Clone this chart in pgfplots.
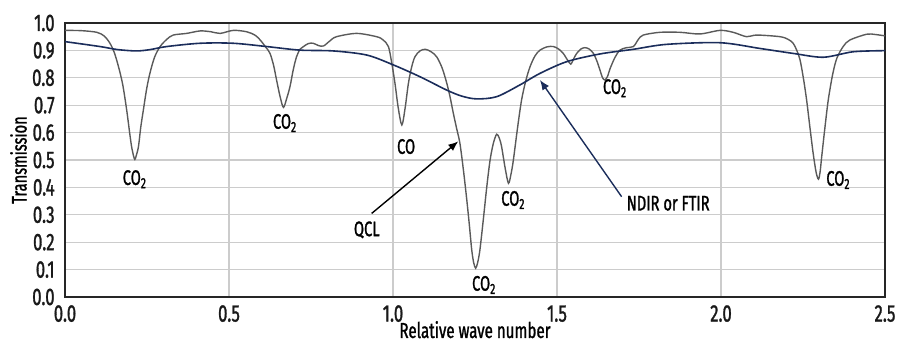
\documentclass[border=0pt]{standalone}
\usepackage{fontspec}
\setmainfont{Fira Sans}[FakeStretch=0.7, FakeBold=1.2]
\usepackage{pgfplots}
\pgfplotsset{compat=1.18}
\usetikzlibrary{arrows.meta}
\definecolor{qcl}{HTML}{5A5A5A}
\definecolor{ndir}{HTML}{1B2D5B}
\definecolor{gridc}{HTML}{CCCCCC}
\pgfplotstableread{
x y
0.000 0.973
0.050 0.972
0.097 0.966
0.120 0.952
0.137 0.926
0.150 0.893
0.163 0.841
0.176 0.775
0.188 0.683
0.197 0.600
0.203 0.549
0.209 0.515
0.213 0.502
0.217 0.515
0.224 0.549
0.231 0.620
0.239 0.683
0.249 0.760
0.259 0.817
0.273 0.875
0.290 0.914
0.310 0.940
0.330 0.956
0.371 0.962
0.412 0.971
0.445 0.968
0.473 0.962
0.513 0.973
0.554 0.968
0.580 0.955
0.595 0.938
0.612 0.912
0.625 0.889
0.636 0.845
0.645 0.792
0.656 0.730
0.666 0.692
0.676 0.725
0.686 0.768
0.696 0.830
0.706 0.877
0.717 0.905
0.727 0.914
0.742 0.925
0.757 0.926
0.772 0.918
0.788 0.916
0.808 0.935
0.828 0.950
0.889 0.962
0.950 0.950
0.970 0.938
0.986 0.914
0.996 0.855
1.006 0.780
1.016 0.690
1.027 0.628
1.037 0.690
1.047 0.780
1.057 0.840
1.067 0.877
1.082 0.898
1.098 0.904
1.115 0.896
1.133 0.877
1.150 0.835
1.164 0.780
1.174 0.730
1.184 0.670
1.194 0.615
1.204 0.561
1.215 0.460
1.225 0.354
1.233 0.260
1.240 0.172
1.246 0.125
1.252 0.105
1.258 0.125
1.265 0.172
1.276 0.290
1.286 0.403
1.296 0.500
1.306 0.561
1.316 0.594
1.324 0.580
1.331 0.549
1.342 0.470
1.352 0.415
1.360 0.450
1.367 0.500
1.380 0.620
1.392 0.719
1.405 0.790
1.418 0.841
1.433 0.880
1.448 0.901
1.470 0.913
1.489 0.914
1.505 0.905
1.519 0.889
1.532 0.865
1.542 0.850
1.551 0.870
1.560 0.889
1.573 0.905
1.585 0.910
1.598 0.905
1.611 0.889
1.622 0.860
1.631 0.828
1.639 0.800
1.646 0.792
1.654 0.805
1.662 0.834
1.677 0.875
1.692 0.901
1.712 0.910
1.733 0.914
1.748 0.940
1.763 0.956
1.814 0.966
1.875 0.966
1.936 0.960
1.997 0.973
2.037 0.966
2.078 0.950
2.109 0.956
2.180 0.950
2.205 0.940
2.220 0.926
2.231 0.900
2.241 0.865
2.251 0.800
2.261 0.719
2.271 0.620
2.281 0.524
2.290 0.455
2.297 0.430
2.302 0.455
2.307 0.512
2.317 0.620
2.327 0.719
2.340 0.810
2.353 0.871
2.373 0.915
2.393 0.938
2.444 0.959
2.470 0.958
2.500 0.953
}\qcltable
\pgfplotstableread{
x y
0.000 0.932
0.107 0.914
0.160 0.903
0.218 0.898
0.260 0.903
0.310 0.914
0.412 0.926
0.513 0.926
0.615 0.914
0.716 0.901
0.818 0.898
0.920 0.883
1.001 0.847
1.082 0.804
1.164 0.755
1.210 0.733
1.255 0.723
1.316 0.731
1.387 0.774
1.448 0.816
1.530 0.859
1.631 0.887
1.733 0.904
1.834 0.922
1.997 0.928
2.119 0.907
2.220 0.889
2.312 0.875
2.403 0.895
2.500 0.899
}\ndirtable
\begin{document}
\begin{tikzpicture}
\useasboundingbox (-32.5pt,-24.5pt) rectangle (417pt,148.5pt);
\begin{axis}[
  scale only axis, width=410pt, height=137pt,
  xmin=0, xmax=2.5, ymin=0, ymax=1,
  xtick={0,0.5,1,1.5,2,2.5},
  ytick={0,0.1,0.2,0.3,0.4,0.5,0.6,0.7,0.8,0.9,1},
  xmajorgrids, ymajorgrids,
  grid style={gridc, line width=0.6pt},
  major tick length=0pt,
  axis line style={draw=black!85, line width=1pt},
  /pgf/number format/.cd, fixed, fixed zerofill, precision=1, assume math mode=true,
  /pgfplots/.cd,
  tick label style={font=\fontsize{12}{12}\selectfont, text=black!90},
  xticklabel style={anchor=base, yshift=-12.3pt},
  yticklabel style={anchor=east, inner xsep=0pt, xshift=-5pt},
  xlabel={Relative wave number}, ylabel={Transmission},
  every axis x label/.style={at={(axis description cs:0.5,-0.1496)}, anchor=base, font=\fontsize{10.8}{10.8}\selectfont},
  every axis y label/.style={at={(axis description cs:-0.0567,0.5)}, rotate=90, anchor=center, font=\fontsize{10.5}{10.5}\selectfont},
]
\addplot[qcl, line width=0.7pt, smooth] table[x=x,y=y] {\qcltable};
\addplot[ndir, line width=0.8pt, smooth] table[x=x,y=y] {\ndirtable};
\begin{scope}[every node/.style={font=\fontsize{10.5}{10.5}\selectfont, inner sep=1pt}]
\node at (axis cs:0.213,0.43) {CO\textsubscript{2}};
\node at (axis cs:0.671,0.635) {CO\textsubscript{2}};
\node at (axis cs:1.04,0.549) {CO};
\node at (axis cs:1.367,0.354) {CO\textsubscript{2}};
\node at (axis cs:1.278,0.044) {CO\textsubscript{2}};
\node at (axis cs:1.677,0.762) {CO\textsubscript{2}};
\node at (axis cs:2.358,0.427) {CO\textsubscript{2}};
\node at (axis cs:0.920,0.245) {QCL};
\node at (axis cs:1.839,0.342) {NDIR or FTIR};
\end{scope}
\draw[-{Latex[length=5pt,width=4pt]}, black, line width=0.7pt] (axis cs:0.935,0.305) -- (axis cs:1.199,0.568);
\draw[-{Latex[length=5pt,width=4pt]}, ndir, line width=0.7pt] (axis cs:1.697,0.366) -- (axis cs:1.448,0.792);
\end{axis}
\end{tikzpicture}
\end{document}
